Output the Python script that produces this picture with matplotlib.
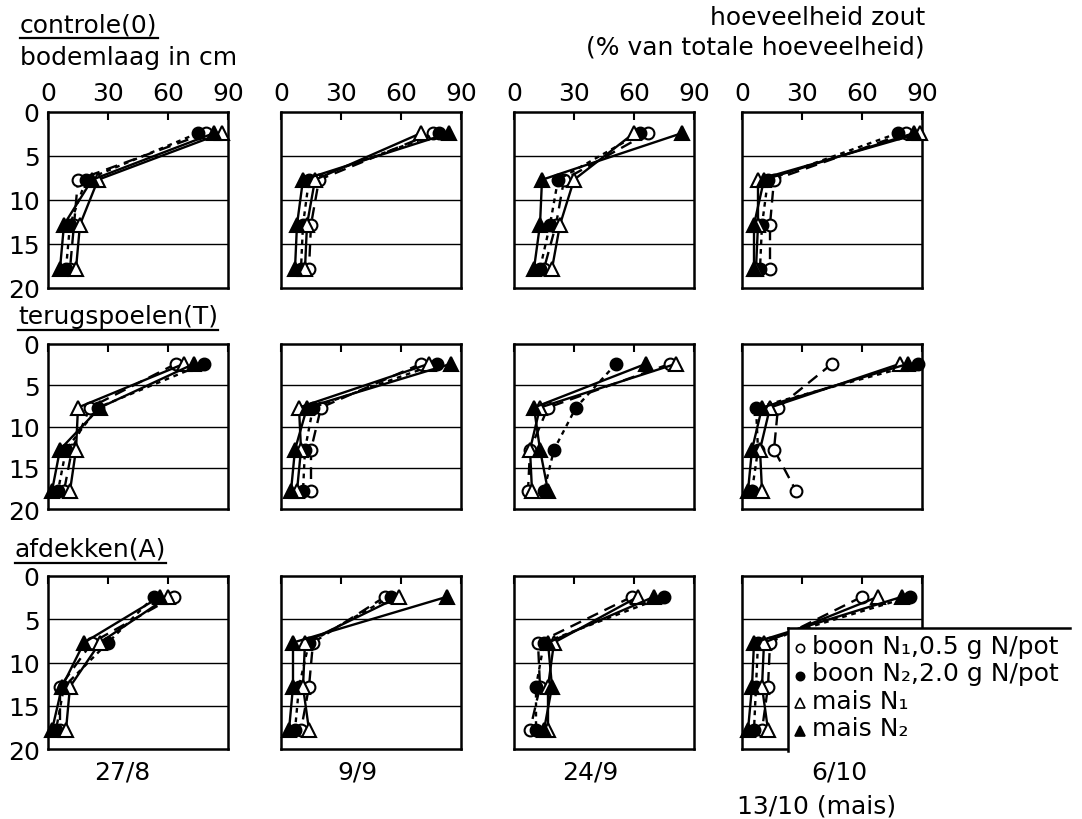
"""Salt distribution over soil depth for three treatments and four dates."""

import matplotlib

matplotlib.use("Agg")
import matplotlib.pyplot as plt
from matplotlib.lines import Line2D
from matplotlib.patches import Rectangle

W, H = 1082, 820

DATES = ["27/8", "9/9", "24/9", "6/10"]
DATE_NOTE = "13/10 (mais)"
DEPTHS = [2.4, 7.7, 12.8, 17.8]
TREATMENTS = ["controle(0)", "terugspoelen(T)", "afdekken(A)"]
SERIES = ["boon N₁,0.5 g N/pot", "boon N₂,2.0 g N/pot", "mais N₁", "mais N₂"]

# salt per layer (% of total), one inner list per date, values top -> bottom
CONTROLE_BOON_N1 = [[79, 15, 13, 11], [76, 19, 15, 14], [67, 25, 21, 15], [82, 16, 14, 14]]
CONTROLE_BOON_N2 = [[75, 19, 11, 9], [79, 14, 11, 10], [63, 22, 18, 13], [78, 13, 10, 9]]
CONTROLE_MAIS_N1 = [[87, 25, 16, 14], [70, 17, 13, 12], [60, 30, 23, 19], [89, 8, 8, 7]]
CONTROLE_MAIS_N2 = [[83, 22, 8, 6], [84, 11, 8, 7], [84, 14, 13, 10], [86, 11, 6, 6]]

TERUG_BOON_N1 = [[64, 21, 12, 8], [70, 20, 15, 15], [78, 17, 8, 7], [45, 18, 16, 27]]
TERUG_BOON_N2 = [[78, 25, 9, 5], [78, 16, 12, 11], [51, 31, 20, 15], [88, 7, 8, 5]]
TERUG_MAIS_N1 = [[68, 15, 14, 11], [74, 9, 10, 8], [81, 13, 8, 9], [79, 14, 9, 10]]
TERUG_MAIS_N2 = [[73, 26, 6, 2], [85, 13, 7, 5], [66, 10, 13, 17], [83, 10, 5, 3]]

AFDEK_BOON_N1 = [[63, 22, 6, 6], [52, 16, 14, 10], [59, 12, 13, 8], [60, 14, 13, 10]]
AFDEK_BOON_N2 = [[53, 30, 8, 4], [55, 14, 9, 7], [75, 15, 11, 11], [84, 8, 7, 6]]
AFDEK_MAIS_N1 = [[60, 26, 11, 9], [59, 12, 11, 14], [62, 20, 17, 17], [68, 11, 10, 13]]
AFDEK_MAIS_N2 = [[56, 18, 7, 2], [83, 6, 6, 4], [70, 17, 19, 15], [80, 6, 5, 3]]

DATA = [
    [CONTROLE_BOON_N1, CONTROLE_BOON_N2, CONTROLE_MAIS_N1, CONTROLE_MAIS_N2],
    [TERUG_BOON_N1, TERUG_BOON_N2, TERUG_MAIS_N1, TERUG_MAIS_N2],
    [AFDEK_BOON_N1, AFDEK_BOON_N2, AFDEK_MAIS_N1, AFDEK_MAIS_N2],
]

STYLES = [
    dict(marker="o", mfc="white", ms=8.5, ls=(0, (5, 3))),
    dict(marker="o", mfc="black", ms=8.5, ls=(0, (2, 2))),
    dict(marker="^", mfc="white", ms=10, ls="-"),
    dict(marker="^", mfc="black", ms=10, ls="-"),
]

COL_X = [48, 281, 514, 742]
PANEL_W = 180
ROW_Y = [(113, 289), (345, 510), (577, 750)]
DATE_X = [122, 357, 590, 839]
FS = 18


def fx(x):
    return x / W


def fy(y):
    return 1 - y / H


def main():
    plt.rcParams["font.family"] = ["DejaVu Sans"]
    fig = plt.figure(figsize=(W / 100, H / 100), dpi=100)

    for r, (top, bot) in enumerate(ROW_Y):
        for c, left in enumerate(COL_X):
            ax = fig.add_axes([fx(left), fy(bot), PANEL_W / W, (bot - top) / H])
            ax.set_xlim(0, 90)
            ax.set_ylim(20, 0)
            for d in (5, 10, 15):
                ax.axhline(d, color="black", lw=1.0, zorder=1)
            for s, style in enumerate(STYLES):
                ax.plot(
                    DATA[r][s][c],
                    DEPTHS,
                    color="black",
                    lw=1.7,
                    mec="black",
                    mew=1.5,
                    clip_on=False,
                    zorder=3,
                    **style,
                )
            ax.xaxis.tick_top()
            ax.set_xticks([0, 30, 60, 90])
            ax.tick_params(axis="x", direction="in", length=6, width=1.5,
                           labelsize=FS, pad=5, labeltop=(r == 0))
            ax.set_yticks([0, 5, 10, 15, 20])
            ax.tick_params(axis="y", length=0, labelsize=FS, pad=6,
                           labelleft=(c == 0))
            for sp in ax.spines.values():
                sp.set_linewidth(1.8)

    # headings
    heads = []
    heads.append(fig.text(fx(20), fy(25), TREATMENTS[0], fontsize=FS, va="center"))
    fig.text(fx(20), fy(58), "bodemlaag in cm", fontsize=FS, va="center")
    heads.append(fig.text(fx(18), fy(317), TREATMENTS[1], fontsize=FS, va="center"))
    heads.append(fig.text(fx(15), fy(550), TREATMENTS[2], fontsize=FS, va="center"))
    fig.text(fx(925), fy(18), "hoeveelheid zout", fontsize=FS, ha="right", va="center")
    fig.text(fx(925), fy(47), "(% van totale hoeveelheid)", fontsize=FS,
             ha="right", va="center")

    for x, label in zip(DATE_X, DATES):
        fig.text(fx(x), fy(773), label, fontsize=FS, ha="center", va="center")
    fig.text(fx(817), fy(807), DATE_NOTE, fontsize=FS, ha="center", va="center")

    # underline the treatment headings
    fig.canvas.draw()
    for t in heads:
        bb = t.get_window_extent()
        fig.add_artist(Line2D([bb.x0 / W, bb.x1 / W], [(bb.y0 - 2) / H] * 2,
                              color="black", lw=1.6, transform=fig.transFigure))

    # legend box drawn by hand: top and left border only
    lx, ly, lb = 788, 629, 752
    fig.add_artist(Rectangle((fx(lx), fy(lb)), 1 - fx(lx), fy(ly) - fy(lb),
                             transform=fig.transFigure, facecolor="white",
                             edgecolor="none", zorder=5))
    fig.add_artist(Line2D([fx(lx), fx(1070)], [fy(ly)] * 2, color="black", lw=1.8,
                          transform=fig.transFigure, zorder=6))
    fig.add_artist(Line2D([fx(lx)] * 2, [fy(ly), fy(lb)], color="black", lw=1.8,
                          transform=fig.transFigure, zorder=6))
    for i, (label, style) in enumerate(zip(SERIES, STYLES)):
        y = 647 + i * 27.5
        fig.add_artist(Line2D([fx(800)], [fy(y + 2)], marker=style["marker"],
                              mfc=style["mfc"], mec="black", mew=1.2,
                              ms=style["ms"] * 0.7, transform=fig.transFigure,
                              zorder=7))
        fig.text(fx(812), fy(y), label, fontsize=FS, va="center", zorder=7)

    fig.savefig("out.png", dpi=100)
    plt.close(fig)


if __name__ == "__main__":
    main()
